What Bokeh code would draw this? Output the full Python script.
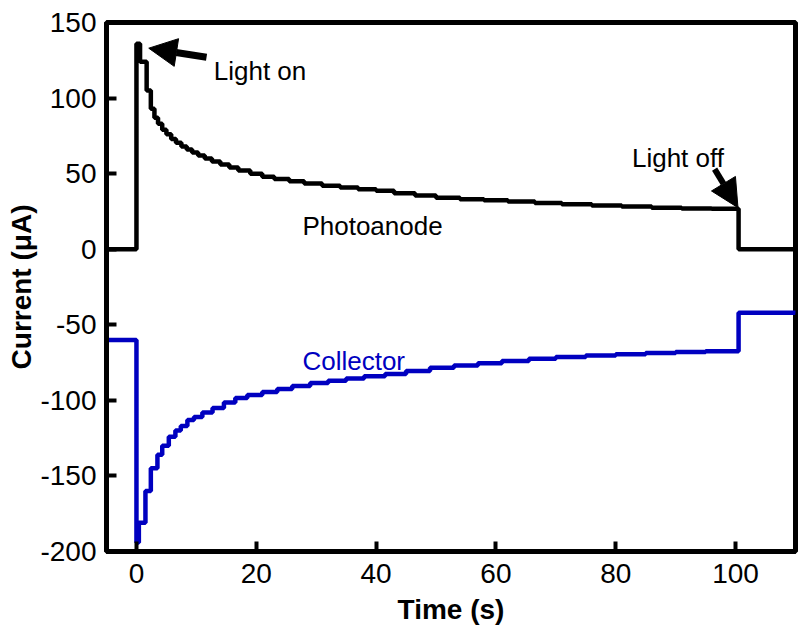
from bokeh.plotting import figure
from bokeh.models import Range1d, FixedTicker, Arrow, NormalHead, Label
from bokeh.embed import file_html
from bokeh.resources import INLINE

# ---- data ----
photo_t = [-5, 0, 0.6, 1.7, 2.4, 3.0, 3.6, 4.3, 5.0, 5.8, 6.6, 7.5, 8.4, 9.3, 10.3, 11.4,
           12.6, 14, 15.5, 17, 19, 21, 23, 25.5, 28, 31, 34, 37, 40, 43, 46.5, 50, 54, 58,
           62, 66.5, 71, 76, 81, 86, 91, 96, 100.5, 110]
photo_i = [0, 136, 124, 105, 93, 87, 83, 79, 76, 73, 70.5, 68, 66, 64, 62, 60,
           58, 56, 54, 52, 50, 48, 46.5, 45, 43.5, 42, 40.8, 39.6, 38.6, 37, 35.5, 34, 33, 32.4,
           31.5, 30.5, 29.8, 29, 28.3, 27.5, 27, 26.7, 0, 0]

coll_t = [-5, 0, 0.4, 1.5, 2.4, 3.5, 4.3, 5.4, 6.5, 7.4, 8.5, 9.6, 11, 12.7, 14.6, 16.5,
          18.5, 21, 23.5, 26, 29, 32, 35, 38, 41.5, 45, 49, 53, 57, 61, 65.5, 70, 75, 80,
          85, 90, 95, 100.5, 110]
coll_i = [-60, -194, -181, -160, -145, -136, -130, -124, -120, -117, -113, -111, -108, -105,
          -101.5, -98.5, -96.5, -94.5, -92.5, -90.5, -88.5, -87, -85.5, -84, -82.5, -80.5,
          -78.5, -77, -75.5, -74, -72.5, -71.3, -70.3, -69.5, -68.7, -68, -67.5, -42, -42.5]

x_ticks = [0, 20, 40, 60, 80, 100]
y_ticks = [-200, -150, -100, -50, 0, 50, 100, 150]

BLUE = "#0000c0"
FONT = "Liberation Sans"

p = figure(width=798, height=637, output_backend="svg", toolbar_location=None,
           x_range=Range1d(-5, 110), y_range=Range1d(-200, 150),
           min_border_left=106, min_border_right=3, min_border_top=22, min_border_bottom=86)
p.xgrid.visible = False
p.ygrid.visible = False
p.outline_line_color = "black"
p.outline_line_width = 5

p.step(photo_t, photo_i, mode="after", line_color="black", line_width=4.5)
p.step(coll_t, coll_i, mode="after", line_color=BLUE, line_width=4.5)

for ax, ticks in ((p.xaxis[0], x_ticks), (p.yaxis[0], y_ticks)):
    ax.ticker = FixedTicker(ticks=ticks)
    ax.major_label_overrides = {t: str(t) for t in ticks}
    ax.minor_tick_line_color = None
    ax.major_tick_in = 10
    ax.major_tick_out = 0
    ax.major_tick_line_width = 4
    ax.axis_line_width = 5
    ax.major_label_text_font = FONT
    ax.major_label_text_font_size = "28px"
    ax.major_label_text_color = "black"
    ax.axis_label_text_font = FONT
    ax.axis_label_text_font_size = "28px"
    ax.axis_label_text_font_style = "bold"
    ax.axis_label_text_color = "black"

p.xaxis.axis_label = "Time (s)"
p.yaxis.axis_label = "Current (\u03bcA)"
p.xaxis.major_label_standoff = 12
p.yaxis.major_label_standoff = 10
p.xaxis.axis_label_standoff = 8
p.yaxis.axis_label_standoff = 0

# annotations
p.add_layout(Arrow(end=NormalHead(size=28, fill_color="black", line_color="black"),
                   x_start=11.7, y_start=127, x_end=2.05, y_end=133,
                   line_width=7, line_color="black"))
p.add_layout(Arrow(end=NormalHead(size=28, fill_color="black", line_color="black"),
                   x_start=96.5, y_start=53, x_end=100.4, y_end=27.5,
                   line_width=6, line_color="black"))

for txt, x, y, col in (("Light on", 12.9, 117.8, "black"),
                       ("Light off", 82.7, 60.2, "black"),
                       ("Photoanode", 27.7, 15.5, "black"),
                       ("Collector", 27.7, -73.9, BLUE)):
    p.add_layout(Label(x=x, y=y, text=txt, text_font=FONT, text_font_size="26px",
                       text_color=col, text_baseline="alphabetic"))

open("out.html", "w").write(file_html(p, INLINE))
